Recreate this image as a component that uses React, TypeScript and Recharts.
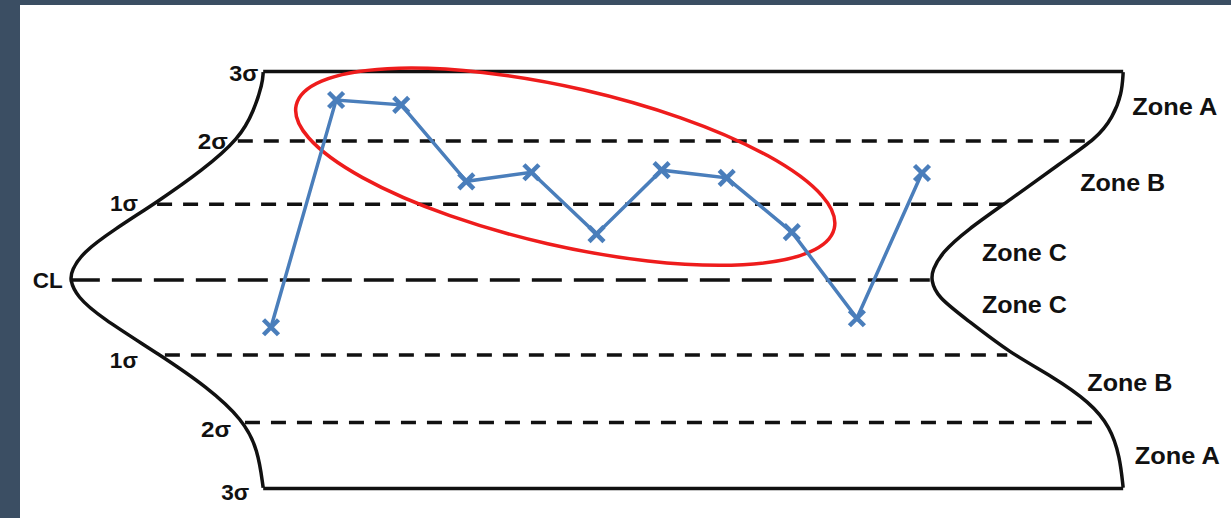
import { ComposedChart, Scatter, XAxis, YAxis, ReferenceLine, ReferenceDot } from "recharts";

// sample number and measured value (in sigma units from the centre line)
const samples = [1, 2, 3, 4, 5, 6, 7, 8, 9, 10, 11];
const values = [-0.68, 2.59, 2.52, 1.42, 1.55, 0.66, 1.58, 1.47, 0.69, -0.55, 1.54];

// control levels, top to bottom
const levelNames = ["3σ", "2σ", "1σ", "CL", "1σ", "2σ", "3σ"];
const levelValues = [3, 2, 1.09, 0, -1.08, -2.05, -3];
// where each level line meets the left and right curve (sample units)
const levelStarts = [0.88, 0.49, -0.75, -2.09, -0.63, 0.6, 0.88];
const levelEnds = [14.09, 13.58, 12.31, 11.12, 12.31, 13.61, 14.09];

// outline of the two bell curves: [sample, sigma]
const leftCurve = [
  [0.88, 2.99], [0.87, 2.83], [0.74, 2.44], [0.52, 2.04], [-0.05, 1.58],
  [-0.75, 1.12], [-1.42, 0.72], [-1.9, 0.39], [-2.06, 0.14], [-2.09, 0],
  [-1.98, -0.24], [-1.63, -0.53], [-0.7, -1.08], [0.02, -1.54], [0.57, -2.01],
  [0.8, -2.44], [0.88, -2.99],
];
const rightCurve = [
  [14.09, 2.99], [14.07, 2.68], [13.93, 2.34], [13.69, 2.04], [13.12, 1.68],
  [12.35, 1.15], [11.69, 0.72], [11.3, 0.39], [11.16, 0.14], [11.14, 0],
  [11.23, -0.24], [11.69, -0.57], [12.35, -1.05], [13.01, -1.39], [13.58, -1.76],
  [13.89, -2.11], [14.04, -2.54], [14.09, -2.99],
];

const zoneNames = ["Zone A", "Zone B", "Zone C", "Zone C", "Zone B", "Zone A"];
const zoneX = [14.23, 13.43, 11.92, 11.92, 13.54, 14.27];
const zoneY = [2.49, 1.4, 0.39, -0.36, -1.48, -2.52];

// centre of the red ring round the run above the centre line
const ringX = 5.52;
const ringY = 1.63;

const BLUE = "#4a7ebb";
const RED = "#ee1c1c";
const INK = "#111";
const FRAME = "#3b4e63";
const FONT = '"Liberation Sans", Arial, sans-serif';

// label nudges in px (end of text relative to line start), and text widths
const levelShift = [[-5, 2], [-10, 0.5], [-19, -1], [-7, 0], [-27, 5], [-14, 7], [-14, 3.5]];
const levelWidth = [29, 30, 28, 30, 28, 30, 28];

const Cross = (p: any) => {
  const s = 7.5;
  return (
    <g stroke={BLUE} strokeWidth={4.5}>
      <line x1={p.cx - s} y1={p.cy - s} x2={p.cx + s} y2={p.cy + s} />
      <line x1={p.cx - s} y1={p.cy + s} x2={p.cx + s} y2={p.cy - s} />
    </g>
  );
};

const NoDot = () => <g />;

const Ring = (p: any) => (
  <ellipse
    cx={p.cx}
    cy={p.cy}
    rx={276}
    ry={79}
    transform={`rotate(12.9 ${p.cx} ${p.cy})`}
    fill="none"
    stroke={RED}
    strokeWidth={3.5}
  />
);

const makeText =
  (text: string, dx: number, dy: number, size: number, width: number, anchor: "start" | "end") =>
  (p: any) => (
    <text
      x={p.cx + dx}
      y={p.cy + dy + size * 0.36}
      fontSize={size}
      fontWeight="bold"
      fontFamily={FONT}
      fill={INK}
      textAnchor={anchor}
      textLength={width}
      lengthAdjust="spacingAndGlyphs"
    >
      {text}
    </text>
  );

const dashFor = (name: string, i: number) => {
  if (i === 0 || i === levelNames.length - 1) return undefined;
  return name === "CL" ? "30 12" : "15 11";
};

export default function App() {
  const points = samples.map((s, i) => ({ x: s, y: values[i] }));
  const left = leftCurve.map(([x, y]) => ({ x, y }));
  const right = rightCurve.map(([x, y]) => ({ x, y }));

  return (
    <div style={{ position: "fixed", left: 0, top: 0, width: 1231, height: 518, background: FRAME, overflow: "hidden" }}>
      <div style={{ position: "absolute", left: 20, top: 5, right: 0, bottom: 0, background: "#fff" }} />
      <div style={{ position: "absolute", left: 0, top: 0 }}>
        <ComposedChart width={1231} height={518} margin={{ top: 43.7, right: 16.05, bottom: 1.7, left: 10.6 }}>
          <XAxis type="number" dataKey="x" domain={[-3, 15.5]} hide allowDataOverflow />
          <YAxis type="number" dataKey="y" domain={[-3.4, 3.4]} hide allowDataOverflow />

          {levelNames.map((name, i) => (
            <ReferenceLine
              key={`lvl-${i}`}
              segment={[
                { x: levelStarts[i], y: levelValues[i] },
                { x: levelEnds[i], y: levelValues[i] },
              ]}
              stroke={INK}
              strokeWidth={3.5}
              strokeDasharray={dashFor(name, i)}
              ifOverflow="visible"
            />
          ))}

          <Scatter
            data={left}
            line={{ stroke: INK, strokeWidth: 3.5 }}
            lineJointType="basis"
            shape={NoDot}
            isAnimationActive={false}
          />
          <Scatter
            data={right}
            line={{ stroke: INK, strokeWidth: 3.5 }}
            lineJointType="basis"
            shape={NoDot}
            isAnimationActive={false}
          />

          <ReferenceDot x={ringX} y={ringY} r={0} shape={Ring} ifOverflow="visible" />

          <Scatter
            data={points}
            line={{ stroke: BLUE, strokeWidth: 3.5 }}
            shape={Cross}
            isAnimationActive={false}
          />

          {levelNames.map((name, i) => (
            <ReferenceDot
              key={`lbl-${i}`}
              x={levelStarts[i]}
              y={levelValues[i]}
              r={0}
              ifOverflow="visible"
              shape={makeText(name, levelShift[i][0], levelShift[i][1], 22, levelWidth[i], "end")}
            />
          ))}

          {zoneNames.map((name, i) => (
            <ReferenceDot
              key={`zone-${i}`}
              x={zoneX[i]}
              y={zoneY[i]}
              r={0}
              ifOverflow="visible"
              shape={makeText(name, 0, 0, 23.5, 85, "start")}
            />
          ))}
        </ComposedChart>
      </div>
    </div>
  );
}
